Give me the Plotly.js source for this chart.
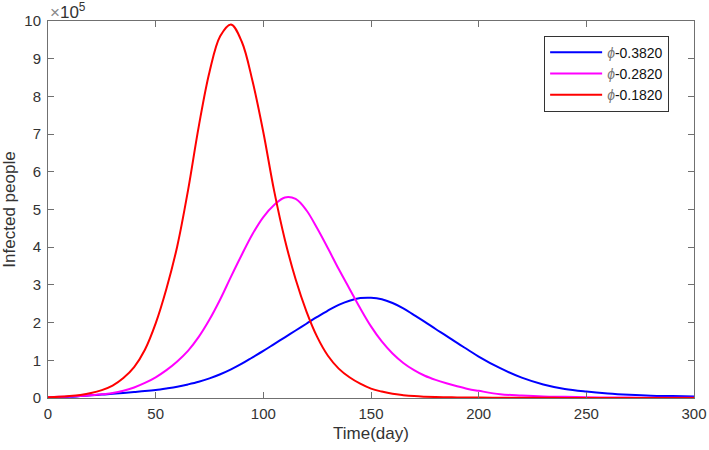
<!DOCTYPE html>
<html>
<head>
<meta charset="utf-8">
<script src="https://cdn.plot.ly/plotly-3.0.1.min.js"></script>
<style>
  body { margin: 0; background: #fff; }
  #chart { width: 709px; height: 450px; }
</style>
</head>
<body>
<div id="chart"></div>
<script>
// days and infected people (x 10^5)
const days = [0, 5, 10, 15, 20, 25, 30, 35, 40, 45, 50, 55, 60, 65, 70, 75, 80, 85, 90, 95, 100,
    105, 110, 115, 120, 125, 130, 135, 140, 145, 150, 155, 160, 165, 170, 175, 180, 185, 190, 195,
    200, 210, 220, 230, 240, 250, 260, 270, 280, 290, 300];

const phi3820 = [0.01, 0.02, 0.03, 0.05, 0.07, 0.09, 0.11, 0.135, 0.16, 0.185, 0.215, 0.255, 0.30,
    0.36, 0.43, 0.52, 0.63, 0.76, 0.91, 1.08, 1.25, 1.43, 1.61, 1.79, 1.97, 2.15, 2.32, 2.47, 2.58,
    2.65, 2.66, 2.62, 2.52, 2.38, 2.20, 2.02, 1.83, 1.65, 1.46, 1.28, 1.10, 0.79, 0.54, 0.36, 0.24,
    0.17, 0.12, 0.085, 0.06, 0.05, 0.04];

const phi2820 = [0.02, 0.03, 0.04, 0.05, 0.07, 0.10, 0.13, 0.19, 0.28, 0.40, 0.55, 0.74, 0.97,
    1.25, 1.62, 2.08, 2.62, 3.22, 3.80, 4.35, 4.80, 5.12, 5.32, 5.28, 4.98, 4.50, 3.97, 3.42, 2.90,
    2.38, 1.90, 1.50, 1.18, 0.93, 0.74, 0.59, 0.48, 0.39, 0.31, 0.24, 0.19, 0.10, 0.065, 0.04, 0.03,
    0.02, 0.015, 0.01, 0.008, 0.006, 0.005];

const phi1820 = [0.02, 0.03, 0.05, 0.08, 0.13, 0.21, 0.33, 0.53, 0.82, 1.28, 1.98, 2.90, 4.02,
    5.50, 7.20, 8.65, 9.60, 9.91, 9.45, 8.40, 7.05, 5.50, 4.20, 3.15, 2.30, 1.62, 1.12, 0.78, 0.55,
    0.38, 0.25, 0.17, 0.11, 0.075, 0.05, 0.035, 0.025, 0.02, 0.015, 0.012, 0.01, 0.007, 0.005,
    0.004, 0.003, 0.003, 0.002, 0.002, 0.002, 0.001, 0.001];

const seriesNames = [
    '<i><span style="color:#777">ϕ</span></i>-0.3820',
    '<i><span style="color:#777">ϕ</span></i>-0.2820',
    '<i><span style="color:#777">ϕ</span></i>-0.1820'
];
const seriesColors = ['#0000ff', '#ff00ff', '#ff0000'];
const xTicks = [0, 50, 100, 150, 200, 250, 300];
const yTicks = [0, 1, 2, 3, 4, 5, 6, 7, 8, 9, 10];

const font = 'Liberation Sans, Arial, sans-serif';
const axisColor = '#707070';
const textColor = '#333333';

const data = [phi3820, phi2820, phi1820].map((vals, i) => ({
    x: days,
    y: vals,
    type: 'scatter',
    mode: 'lines',
    name: seriesNames[i],
    line: { color: seriesColors[i], width: 2, shape: 'spline', smoothing: 1 },
    hoverinfo: 'none'
}));

const axisBase = {
    showgrid: false,
    zeroline: false,
    showline: true,
    linecolor: axisColor,
    linewidth: 1,
    mirror: 'allticks',
    ticks: 'inside',
    ticklen: 6,
    tickwidth: 1,
    tickcolor: axisColor,
    tickfont: { family: font, size: 15, color: textColor }
};

const layout = {
    width: 709,
    height: 450,
    margin: { l: 48, r: 15, t: 21, b: 52 },
    paper_bgcolor: '#ffffff',
    plot_bgcolor: '#ffffff',
    font: { family: font, color: textColor },
    xaxis: Object.assign({}, axisBase, {
        range: [0, 300],
        tickvals: xTicks,
        ticktext: xTicks.map(String),
        ticklabelstandoff: 2,
        title: { text: 'Time(day)', font: { family: font, size: 17, color: textColor }, standoff: 6 }
    }),
    yaxis: Object.assign({}, axisBase, {
        range: [0, 10],
        tickvals: yTicks,
        ticktext: yTicks.map(String),
        ticklabelstandoff: 3,
        title: { text: 'Infected people', font: { family: font, size: 17, color: textColor }, standoff: 6 }
    }),
    showlegend: true,
    legend: {
        x: 0.768,
        y: 0.961,
        xanchor: 'left',
        yanchor: 'top',
        bgcolor: '#ffffff',
        bordercolor: '#333333',
        borderwidth: 1,
        itemwidth: 52,
        font: { family: font, size: 14, color: '#111111' },
        tracegroupgap: 0
    },
    annotations: [{
        xref: 'paper', yref: 'paper',
        x: 0, y: 1,
        xanchor: 'left', yanchor: 'bottom',
        yshift: -3,
        showarrow: false,
        text: '<span style="color:#888">×</span>10<sup>5</sup>',
        font: { family: font, size: 17, color: textColor }
    }]
};

Plotly.newPlot('chart', data, layout, { staticPlot: true });
</script>
</body>
</html>
